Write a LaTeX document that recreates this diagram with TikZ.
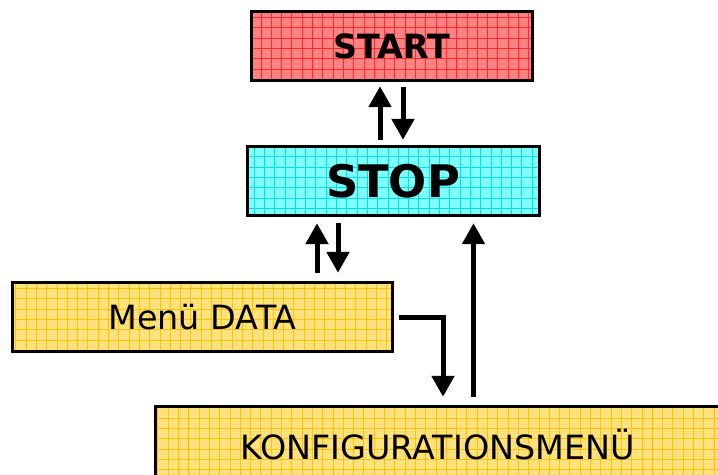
\documentclass[tikz,border=0pt]{standalone}
\usepackage{fontspec}
\setmainfont{DejaVu Sans}
\usetikzlibrary{arrows.meta,calc}
\definecolor{startfill}{HTML}{FF8282}
\definecolor{startgrid}{HTML}{FF2A2A}
\definecolor{stopfill}{HTML}{80FFFF}
\definecolor{stopgrid}{HTML}{00E0E0}
\definecolor{menufill}{HTML}{FFE27E}
\definecolor{menugrid}{HTML}{FFC400}
\tikzset{
  gridbox/.style args={#1/#2}{fill=#1, inner sep=0pt, text depth=0pt,
    path picture={\draw[#2, line width=0.7bp, step=10.3bp]
      ([shift={(-1bp,-1bp)}]path picture bounding box.south west) grid
      ([shift={(1bp,1bp)}]path picture bounding box.north east);},
    postaction={draw=black, line width=3bp}},
  arr/.style={line width=5bp, -{Triangle[width=22bp,length=21bp]}}
}
\begin{document}
\begin{tikzpicture}[x=1bp,y=1bp]
\useasboundingbox (0,0) rectangle (718,475);
\node[gridbox=startfill/startgrid, minimum width=281bp, minimum height=69bp, text height=24.4bp,
  font=\fontsize{33.5}{40}\selectfont\bfseries] (start) at (391.5,428.5) {START};
\node[gridbox=stopfill/stopgrid, minimum width=292bp, minimum height=69bp, text height=32.8bp,
  font=\fontsize{45}{54}\selectfont\bfseries] (stop) at (393,293.5) {STOP};
\node[gridbox=menufill/menugrid, minimum width=379bp, minimum height=69bp, text height=24.4bp,
  font=\fontsize{33.5}{40}\selectfont] (menu) at (202.5,157.5) {Menü DATA};
\node[gridbox=menufill/menugrid, minimum width=563bp, minimum height=80bp, text height=24.4bp,
  font=\fontsize{33.5}{40}\selectfont] (konf) at (437.5,28) {KONFIGURATIONSMENÜ};
% START <-> STOP
\draw[arr, shorten <=7bp, shorten >=5bp] ([xshift=-13bp]stop.north) -- ([xshift=-13bp]stop.north |- start.south);
\draw[arr, shorten <=6bp, shorten >=7bp] ([xshift=10bp]stop.north |- start.south) -- ([xshift=10bp]stop.north);
% STOP <-> Menu
\draw[arr, shorten <=10bp, shorten >=7bp] ([xshift=-76bp]stop.south |- menu.north) -- ([xshift=-76bp]stop.south);
\draw[arr, shorten <=7bp, shorten >=10bp] ([xshift=-55bp]stop.south) -- ([xshift=-55bp]stop.south |- menu.north);
% Menu -> KONF
\draw[arr, line join=miter, shorten >=10bp] ([xshift=7bp]menu.east) -| ([xshift=5.5bp]konf.north);
% KONF -> STOP
\draw[arr, shorten <=10bp, shorten >=7bp] ([xshift=36bp]konf.north) -- ([xshift=36bp]konf.north |- stop.south);
\end{tikzpicture}
\end{document}
